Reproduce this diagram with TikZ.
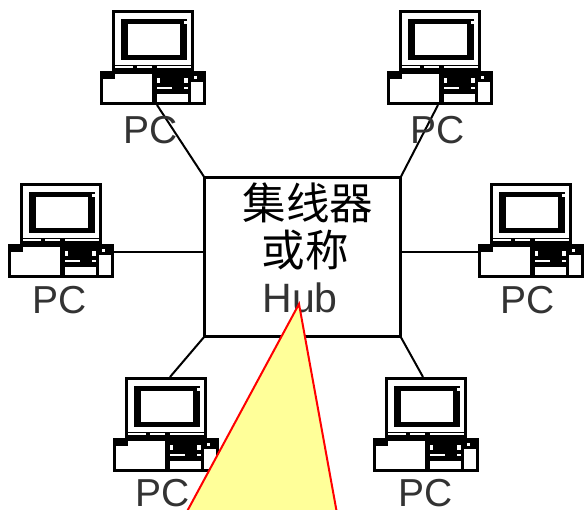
\documentclass[tikz,border=0pt]{standalone}
\usepackage{fontspec}
\setmainfont{Liberation Sans}
\newfontfamily\cjk{Noto Sans CJK SC}
\definecolor{notefill}{HTML}{FFFF99}
\tikzset{
  ink/.style={fill=black,draw=none},
  blank/.style={fill=white,draw=none},
  wire/.style={draw=black,line width=2pt},
  hubbox/.style={draw=black,line width=2.6pt,fill=white,minimum width=196pt,minimum height=159pt,inner sep=0pt,outer sep=0pt},
  pclabel/.style={font=\fontsize{39}{39}\selectfont,inner sep=0pt,text=black!80},
  cjklabel/.style={font=\cjk\fontsize{43.5}{43.5}\selectfont,inner sep=0pt,text=black},
  hublabel/.style={font=\fontsize{41}{41}\selectfont,inner sep=0pt,text=black!80},
  note/.style={draw=red,line width=2pt,fill=notefill,line join=miter},
  pc/.pic={
    % monitor
    \path[ink] (12,-61) rectangle (94,0);
    \path[blank] (15,-58) rectangle (91,-6);
    \path[ink] (21,-52) rectangle (87,-11);
    \path[blank] (28,-47) rectangle (80,-16);
    \path[blank] (84,-50) rectangle (87,-47);
    \path[blank] (15,-5) rectangle (33,-3);
    \path[blank] (37,-5) rectangle (52,-3);
    \path[blank] (57,-5) rectangle (91,-3);
    % base
    \path[ink] (0,0) rectangle (106,34);
    \path[blank] (3,8) rectangle (15,31);
    \path[blank] (15,3) rectangle (52,31);
    \path[blank] (57,23) rectangle (88,31);
    \path[blank] (57,16) rectangle (72,18);
    \path[blank] (57,7) rectangle (60,12);
    \path[blank] (84,7) rectangle (88,12);
    \path[blank] (84,16) rectangle (88,18);
    \path[blank] (94,5) rectangle (97,8);
    \path[blank] (91,11) rectangle (103,31);
    \coordinate (-bot) at (57,34);
    \coordinate (-botb) at (51,34);
    \coordinate (-right) at (106,8);
    \coordinate (-left) at (0,8);
    \coordinate (-top) at (57,-61);
    \coordinate (-topb) at (50,-61);
  }
}
\begin{document}
\begin{tikzpicture}[x=1pt,y=-1pt]
  \useasboundingbox (0,0) rectangle (585,510);
  \clip (0,0) rectangle (585,510);
  \fill[white] (0,0) rectangle (585,510);

  \node[hubbox] (hub) at (302.5,257) {};

  \pic (tl) at (100,71) {pc};
  \pic (tr) at (387,71) {pc};
  \pic (ml) at (8,244) {pc};
  \pic (mr) at (478,244) {pc};
  \pic (bl) at (113,438) {pc};
  \pic (br) at (373,438) {pc};

  \draw[wire] (tl-bot) -- (hub.north west);
  \draw[wire] (tr-botb) -- (hub.north east);
  \draw[wire] (ml-right) -- (ml-right -| hub.west);
  \draw[wire] (mr-left) -- (mr-left -| hub.east);
  \draw[wire] (bl-top) -- (hub.south west);
  \draw[wire] (br-topb) -- (hub.south east);

  \node[pclabel] (pc1) at (151,130) {PC};
  \node[pclabel] (pc2) at (438,130) {PC};
  \node[pclabel] (pc3) at (60,300) {PC};
  \node[pclabel] (pc4) at (528,300) {PC};
  \node[pclabel] (pc5) at (163,493) {PC};
  \node[pclabel] (pc6) at (426,493) {PC};

  \node[cjklabel] (t1) at (308,203) {集线器};
  \node[cjklabel] (t2) at (305,250) {或称};
  \node[hublabel,anchor=base] (t3) at (300,312) {Hub};

  \coordinate (apex) at (299,304);
  \coordinate (cl) at (177,530);
  \coordinate (cr) at (340,530);
  \draw[note] (apex) -- (cr) -- (cl) -- cycle;
\end{tikzpicture}
\end{document}
